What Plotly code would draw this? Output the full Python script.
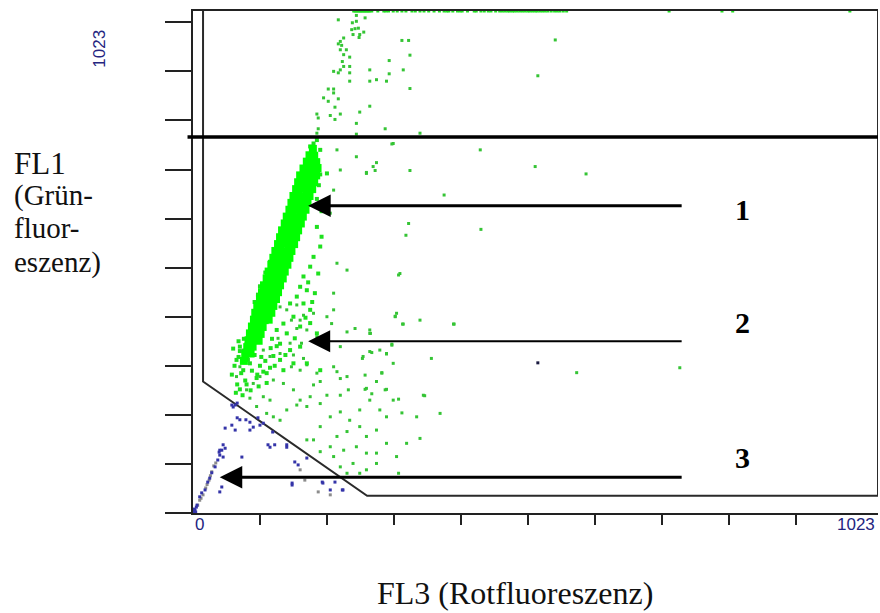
import plotly.graph_objects as go

# ---------------- data (channel units 0..1023) ----------------
CORE = [
    (179, 742),
    (174, 729), (181, 728),
    (170, 716), (177, 717), (184, 715),
    (165, 702), (172, 703), (180, 701), (186, 703),
    (160, 688), (168, 689), (176, 687), (184, 688),
    (157, 674), (165, 675), (173, 673), (181, 674),
    (154, 660), (162, 661), (170, 659), (178, 660),
    (150, 646), (158, 647), (166, 645), (174, 646),
    (147, 632), (155, 633), (163, 631), (171, 632),
    (144, 618), (152, 619), (160, 617), (168, 618),
    (140, 604), (148, 605), (156, 603), (164, 604),
    (137, 590), (145, 591), (153, 589), (161, 590),
    (133, 576), (141, 577), (149, 575), (157, 576),
    (130, 562), (138, 563), (146, 561), (154, 562),
    (127, 548), (135, 549), (143, 547), (151, 548),
    (123, 534), (131, 535), (139, 533), (147, 534),
    (120, 520), (128, 521), (136, 519), (144, 520),
    (117, 506), (125, 507), (133, 505), (141, 506),
    (113, 492), (121, 493), (129, 491), (137, 492),
    (110, 478), (118, 479), (126, 477), (134, 478),
    (106, 464), (114, 465), (122, 463), (130, 464),
    (103, 450), (111, 451), (119, 449), (127, 450),
    (100, 436), (108, 437), (116, 435), (124, 436),
    (96, 422), (104, 423), (112, 421), (120, 422),
    (93, 408), (101, 409), (109, 407), (117, 408),
    (91, 394), (99, 395), (107, 393), (113, 394),
    (88, 380), (96, 381), (104, 379),
    (85, 366), (93, 367), (101, 365),
    (83, 352), (91, 353), (98, 351),
    (81, 338), (89, 339),
    (78, 324), (86, 325),
    (76, 310),
]

FRINGE = [
    (180, 753), (185, 760), (175, 747), (190, 740), (170, 713), (200, 692), (190, 690),
    (188, 668), (185, 640), (192, 615), (185, 583), (192, 563), (190, 543), (180, 522),
    (175, 502), (187, 488), (165, 482), (160, 461), (170, 454), (182, 448), (155, 441),
    (145, 427), (165, 427), (175, 414), (150, 400), (135, 386), (160, 380), (140, 366),
    (125, 373), (175, 387), (185, 366), (195, 346), (160, 339), (145, 332), (130, 312),
    (150, 305), (170, 305), (190, 291), (135, 291), (110, 285), (85, 305), (75, 291),
    (140, 590), (128, 560), (122, 535), (115, 512), (108, 490), (100, 462), (97, 445),
    (92, 430), (150, 620), (155, 645), (160, 668), (165, 690),
    (62, 300), (68, 318), (72, 285), (78, 270), (66, 262), (88, 290), (95, 275), (82, 312),
    (92, 322), (100, 300), (105, 288), (58, 282), (64, 245), (74, 240), (86, 250), (98, 258),
    (110, 265), (70, 330), (80, 345), (60, 335), (108, 310), (115, 296), (120, 320),
    (125, 340), (118, 355), (130, 345), (76, 355), (68, 350), (70, 339), (65, 312),
    (90, 373), (100, 400), (110, 427), (172, 470), (178, 430), (168, 398), (152, 356),
    (138, 322), (122, 300), (96, 282), (80, 262), (70, 252), (102, 318), (116, 336),
]

SCATTER = [
    (130, 420), (140, 414), (155, 424), (147, 393), (160, 393), (165, 403), (180, 407),
    (155, 376), (170, 373), (140, 366), (127, 356), (145, 346), (162, 346), (185, 359),
    (210, 414), (207, 386), (230, 369), (242, 376), (264, 366), (302, 400), (313, 385),
    (339, 393), (389, 385), (297, 342), (220, 339),
    (75, 332), (88, 336), (105, 332), (115, 319), (130, 325), (150, 322), (165, 315),
    (147, 298), (160, 291), (170, 302), (185, 285), (190, 268), (180, 261), (210, 298),
    (215, 288), (220, 274), (230, 278), (254, 319), (264, 329), (282, 285), (289, 325),
    (274, 268), (287, 251), (259, 254), (232, 251), (220, 240), (200, 240), (175, 237),
    (160, 230), (150, 251), (135, 264), (120, 271), (100, 278), (90, 264), (70, 298),
    (65, 278), (80, 251), (85, 234), (105, 237), (115, 230), (95, 217), (110, 203),
    (344, 240), (369, 203), (334, 196), (312, 204),
    (120, 196), (130, 189), (140, 210), (155, 220), (170, 217), (190, 223), (205, 196),
    (220, 206), (234, 189), (249, 210), (264, 230), (279, 210), (299, 230), (289, 196),
    (274, 169), (259, 156), (249, 176), (230, 166), (215, 156), (205, 135), (190, 176),
    (180, 149), (170, 149), (190, 125), (210, 115), (225, 128), (244, 135), (259, 122),
    (274, 122), (289, 142), (304, 115), (307, 81), (259, 88), (239, 101), (220, 94),
    (230, 81), (249, 81), (319, 142), (339, 152), (274, 101),
    (215, 509), (210, 448), (230, 495), (220, 699), (244, 726), (259, 692), (269, 706),
    (215, 740), (299, 753), (309, 488), (304, 407), (264, 373), (279, 332), (299, 305),
    (200, 400), (205, 611), (210, 658), (200, 692),
    (297, 752), (429, 740), (274, 714), (259, 694), (272, 698), (324, 698), (511, 706),
    (587, 691), (375, 648), (322, 590), (318, 566), (430, 578), (307, 485), (302, 401),
    (314, 385), (390, 385), (265, 366), (297, 344), (267, 327), (289, 324), (253, 315),
    (356, 315), (573, 286), (727, 296), (257, 281), (282, 286), (257, 252), (289, 252),
    (267, 243), (346, 239), (307, 232),
]

UPPER = [
    (217, 1005), (244, 1014), (257, 1009), (238, 999), (244, 1002), (237, 985), (242, 987),
    (247, 988), (255, 980), (249, 975), (239, 975), (248, 969), (225, 968), (220, 961),
    (217, 956), (222, 953), (229, 944), (220, 944), (225, 934), (234, 929), (223, 920),
    (225, 910), (220, 903), (210, 900), (217, 897), (234, 910), (234, 897), (234, 880),
    (264, 903), (264, 880), (274, 883), (289, 880), (293, 895), (293, 922), (312, 963),
    (322, 963), (324, 933), (314, 903), (324, 865), (202, 864), (210, 864), (210, 856),
    (195, 846), (202, 839), (217, 844), (212, 827), (264, 829), (185, 813), (205, 810),
    (220, 813), (187, 805), (212, 802), (249, 817), (244, 794), (287, 783), (187, 783),
    (185, 774), (244, 772), (339, 774), (541, 964), (515, 891),
]

TOP_ROW_X = [240, 242, 244, 246, 248, 250, 252, 254, 256, 258, 260, 262, 264, 267,
             276, 285, 288, 292, 299, 305, 312, 318, 327, 332, 339, 345, 352, 360,
             368, 375, 379, 382, 388, 395, 399, 402, 410, 420, 423, 430, 435, 441,
             445, 452, 458, 462, 466, 470, 473, 477, 480, 484, 488, 492, 496, 500,
             503, 507, 511, 514, 518, 522, 526, 530, 535, 540, 544, 548, 553, 558,
             711, 790, 806, 981]
TOP_ROW_Y = [1023] * len(TOP_ROW_X)

BLUE = [
    (3, 6), (6, 16), (10, 33), (13, 41), (18, 47), (22, 63), (25, 71), (28, 82), (33, 94),
    (37, 108), (40, 118), (43, 128), (48, 132), (45, 139), (39, 124), (1, 2), (1, 4),
    (4, 2), (0, 0), (2, 8), (5, 12),
    (58, 220), (63, 220), (66, 224), (60, 216), (66, 194), (70, 190), (58, 179), (48, 173),
    (63, 169), (85, 185), (90, 175), (100, 179), (105, 183), (119, 165), (85, 169),
    (40, 128), (45, 114), (73, 114), (112, 139), (115, 134), (122, 139), (140, 139),
    (140, 134), (152, 104), (157, 98), (170, 112), (148, 61), (148, 57), (193, 63),
    (194, 61), (205, 47), (212, 63), (223, 47), (224, 47), (40, 43), (43, 53), (97, 194),
    (79, 190),
]

GRAY = [(7, 16), (10, 26), (15, 37), (19, 51), (24, 67), (28, 84), (31, 96), (34, 102),
        (167, 67), (187, 43), (160, 88), (205, 37), (12, 30), (21, 58), (26, 76)]

OUTLIER = [(515, 306)]

GATE_X = [15, 15, 260, 1023, 1023]
GATE_Y = [1023, 268, 35, 35, 1023]
THRESHOLD_Y = 766

Y_TICKS = list(range(0, 1001, 100))
X_TICKS = list(range(100, 901, 100))
AXIS_MAX = 1023


def xs(pts):
    return [p[0] for p in pts]


def ys(pts):
    return [p[1] for p in pts]


fig = go.Figure()

fig.add_trace(go.Scatter(x=GATE_X, y=GATE_Y, mode="lines",
                         line=dict(color="#2a2a2a", width=2), cliponaxis=False,
                         hoverinfo="skip", showlegend=False))

fig.add_trace(go.Scatter(x=xs(GRAY), y=ys(GRAY), mode="markers",
                         marker=dict(symbol="square", size=3, color="#8c8c8c"),
                         showlegend=False))
fig.add_trace(go.Scatter(x=xs(BLUE), y=ys(BLUE), mode="markers", cliponaxis=False,
                         marker=dict(symbol="square", size=3, color="#3434a8"),
                         showlegend=False))
fig.add_trace(go.Scatter(x=xs(OUTLIER), y=ys(OUTLIER), mode="markers",
                         marker=dict(symbol="square", size=3, color="#1a1a40"),
                         showlegend=False))

fig.add_trace(go.Scatter(x=xs(SCATTER) + xs(UPPER), y=ys(SCATTER) + ys(UPPER),
                         mode="markers",
                         marker=dict(symbol="square", size=3, color="#35c435"),
                         showlegend=False))
fig.add_trace(go.Scatter(x=xs(FRINGE), y=ys(FRINGE), mode="markers",
                         marker=dict(symbol="square", size=4, color="#1ee01e"),
                         showlegend=False))
fig.add_trace(go.Scatter(x=xs(CORE), y=ys(CORE), mode="markers",
                         marker=dict(symbol="square", size=8, color="#00ff00"),
                         showlegend=False))
fig.add_trace(go.Scatter(x=TOP_ROW_X, y=TOP_ROW_Y, mode="markers", cliponaxis=False,
                         marker=dict(symbol="square", size=3, color="#22e022"),
                         showlegend=False))

serif = "Liberation Serif, Times New Roman, serif"
sans = "Liberation Sans, Arial, sans-serif"
navy = "#25257f"

annotations = []
# arrows
for (tx, ty, tailx, width, size) in [(172, 626, 732, 3, 1.5),
                                     (172, 350, 732, 2, 2.2),
                                     (40, 73, 732, 3, 1.5)]:
    annotations.append(dict(x=tx, y=ty, ax=tailx, ay=ty, xref="x", yref="y",
                            axref="x", ayref="y", text="", showarrow=True,
                            arrowhead=2, arrowsize=size, arrowwidth=width,
                            arrowcolor="black", standoff=0))
# population numbers
for lab, yp in [("1", 0.6036), ("2", 0.3785), ("3", 0.1096)]:
    annotations.append(dict(x=0.8015, y=yp, xref="paper", yref="paper",
                            xanchor="center", yanchor="middle",
                            text="<b>%s</b>" % lab, showarrow=False,
                            font=dict(family=serif, size=30, color="black")))
# axis titles
annotations.append(dict(x=0.470, y=-0.159, xref="paper", yref="paper",
                        xanchor="center", yanchor="middle",
                        text="FL3 (Rotfluoreszenz)", showarrow=False,
                        font=dict(family=serif, size=32, color="#111")))
for txt, yp, sz in [("FL1", 0.697, 31), ("(Grün-", 0.633, 29),
                    ("fluor-", 0.568, 29), ("eszenz)", 0.500, 29)]:
    annotations.append(dict(x=-0.2642, y=yp, xref="paper", yref="paper",
                            xanchor="left", yanchor="middle", text=txt,
                            showarrow=False,
                            font=dict(family=serif, size=sz, color="#111")))
# channel labels
annotations.append(dict(x=0, y=-0.022, xref="x", yref="paper", xanchor="left",
                        yanchor="middle", text="0", showarrow=False,
                        font=dict(family=sans, size=17, color=navy)))
annotations.append(dict(x=0.968, y=-0.022, xref="paper", yref="paper",
                        xanchor="center", yanchor="middle",
                        text=str(AXIS_MAX), showarrow=False,
                        font=dict(family=sans, size=17, color=navy)))
annotations.append(dict(x=-0.1358, y=0.925, xref="paper", yref="paper",
                        xanchor="center", yanchor="middle",
                        text=str(AXIS_MAX), showarrow=False, textangle=-90,
                        font=dict(family=sans, size=17, color=navy)))

fig.update_layout(
    width=880, height=613,
    margin=dict(l=193, r=2, t=11, b=100),
    paper_bgcolor="white", plot_bgcolor="white",
    showlegend=False,
    annotations=annotations,
    shapes=[dict(type="line", xref="paper", yref="y", x0=-0.008, x1=1,
                 y0=THRESHOLD_Y, y1=THRESHOLD_Y,
                 line=dict(color="black", width=3.5))],
    xaxis=dict(range=[0, AXIS_MAX], showgrid=False, zeroline=False,
               showline=True, mirror=True, linecolor="#222", linewidth=2,
               tickmode="array", tickvals=X_TICKS, ticks="outside", ticklen=10,
               tickwidth=2, tickcolor="#222", showticklabels=False),
    yaxis=dict(range=[0, AXIS_MAX], showgrid=False, zeroline=False,
               showline=True, linecolor="#222", linewidth=2,
               tickmode="array", tickvals=Y_TICKS, ticks="outside", ticklen=26,
               tickwidth=2, tickcolor="#222", showticklabels=False),
)

fig.write_html("out.html")
